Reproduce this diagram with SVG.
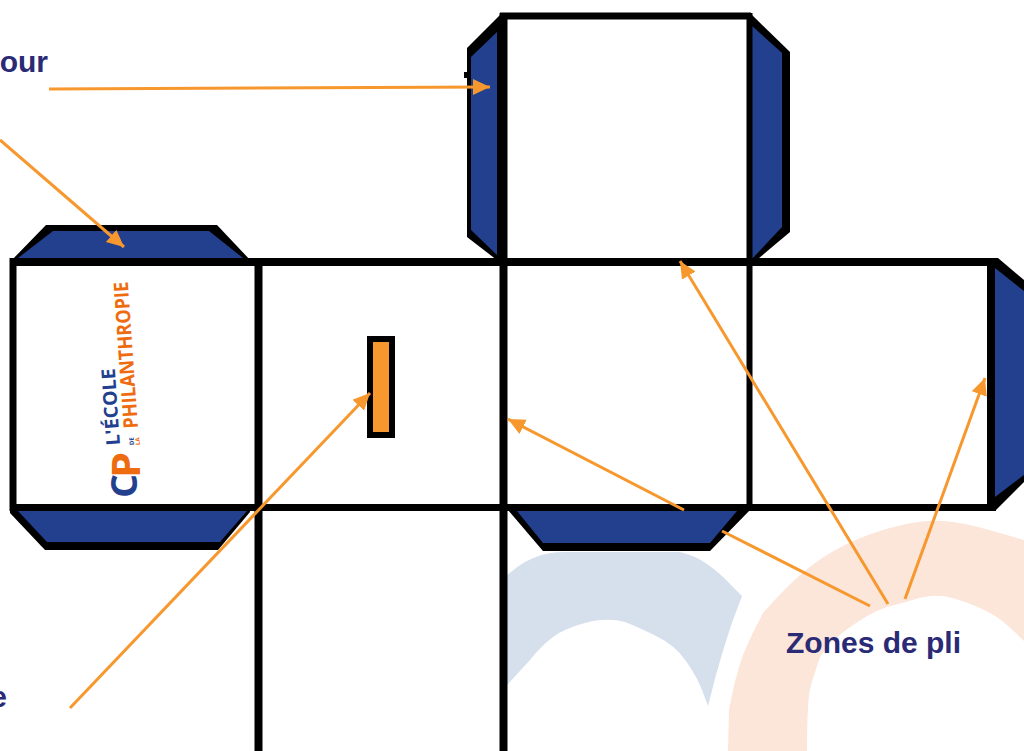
<svg xmlns="http://www.w3.org/2000/svg" width="1024" height="751" viewBox="0 0 1024 751">
<style>
.out{fill:#000}
.tab{fill:#23408f}
.fold{fill:none;stroke:#000}
.conn{fill:none;stroke:#f7982e;stroke-width:3}
.lab{font-family:"Liberation Sans",Arial,sans-serif;font-weight:700;font-size:30px;fill:#2a2a75}
.logo{font-family:"Open Sans","Liberation Sans",sans-serif;font-weight:700}
</style>
<defs><marker id="ah" markerUnits="userSpaceOnUse" markerWidth="20" markerHeight="18" refX="17" refY="8" orient="auto"><path d="M0 0L17 8L0 16Z" fill="#f7982e"/></marker></defs>
<rect width="1024" height="751" fill="#fff"/>
<g id="background">
<path d="M507 575L516 568Q525 561 536 557Q548 552 565 552L680 552Q694 555 707 564Q720 573 731 585L742 596L733 620Q725 643 716 675L708 706L702 690Q697 677 686 661Q675 645 656 636Q638 627 625 622Q612 618 593 621Q574 625 559 633Q544 642 530 660L507 685Z" fill="#d6e0ed"/>
<path d="M728 751L729 710Q735 677 743 655Q752 633 763 613Q794 578 815 563Q836 548 858 539Q880 530 902 525Q925 520 943 521Q962 522 993 531L1024 540L1024 641Q1011 628 1001 620Q992 613 973 605Q955 598 943 596Q932 595 919 598Q906 602 887 607Q869 613 846 630Q824 647 819 660Q815 672 811 685Q807 697 807 751Z" fill="#fce5d9"/>
</g>
<g id="tab-left-top"><path class="out" d="M10 262L46 225L217 225L252 262Z"/><path class="tab" d="M18 258L53 231L209 231L243 258Z"/></g>
<g id="tab-left-bottom"><path class="out" d="M10 510L10 513L45 550L218 550L250 512L250 508Z"/><path class="tab" d="M18 511L47 542L220 542L247 511Z"/></g>
<g id="tab-top-left"><path class="out" d="M502 13L467 48L467 237L502 264Z"/><path class="tab" d="M497 32L471 57L471 230L497 255Z"/><rect x="464" y="72" width="3" height="6"/></g>
<g id="tab-top-right"><path class="out" d="M750 13L790 52L790 232L752 264Z"/><path class="tab" d="M751 25L782 53L782 227L751 260Z"/></g>
<g id="tab-bottom"><path class="out" d="M508 510L543 551L710 551L750 510Z"/><path class="tab" d="M517 511L543 543L710 543L737 511Z"/></g>
<g id="tab-right"><path class="out" d="M992 258L998 258L1024 280L1024 482L996 510L992 510Z"/><path class="tab" d="M995 268L1024 291L1024 475L995 497Z"/></g>
<g id="cube-net">
<path class="fold" stroke-width="7" d="M10 507.500H996M500 16H751"/>
<path class="fold" stroke-width="8" d="M10 262H996M258.500 258V751M503.500 13V751M991 258V511"/>
<path class="fold" stroke-width="7" d="M13 258V511"/>
<path class="fold" stroke-width="6" d="M749.500 13V511"/>
</g>
<g id="slot"><rect x="370" y="339" width="22" height="96" fill="#f7982e" stroke="#000" stroke-width="6"/></g>
<g id="logo">
<text class="logo" transform="translate(138 428) rotate(-94)" font-size="20" fill="#ee6c0f" textLength="147" lengthAdjust="spacingAndGlyphs">PHILANTHROPIE</text>
<text class="logo" transform="translate(120 445) rotate(-94)" font-size="19" fill="#23408f" textLength="77" lengthAdjust="spacingAndGlyphs">L'ÉCOLE</text>
<text class="logo" transform="translate(134 445) rotate(-94)" font-size="6" fill="#23408f">DE</text>
<text class="logo" transform="translate(140 445) rotate(-94)" font-size="6" fill="#ee6c0f">LA</text>
<text class="logo" transform="translate(137 498) rotate(-90)" font-size="36" fill="#23408f" textLength="24" lengthAdjust="spacingAndGlyphs">C</text>
<text class="logo" transform="translate(140 478) rotate(-90)" font-size="40" fill="#ee6c0f" textLength="26" lengthAdjust="spacingAndGlyphs">P</text>
</g>
<g id="connectors">
<path class="conn" d="M49 89L490 87" marker-end="url(#ah)"/>
<path class="conn" d="M0 140L124 247" marker-end="url(#ah)"/>
<path class="conn" d="M70 708L370 393" marker-end="url(#ah)"/>
<path class="conn" d="M888 604L680 261" marker-end="url(#ah)"/>
<path class="conn" d="M905 599L985 378" marker-end="url(#ah)"/>
<path class="conn" d="M870 606L722 531"/>
<path class="conn" d="M684 510L508 419" marker-end="url(#ah)"/>
</g>
<text class="lab" x="48" y="72" text-anchor="end">our</text>
<text class="lab" x="7" y="707" text-anchor="end">e</text>
<text class="lab" x="786" y="653">Zones de pli</text>
</svg>
